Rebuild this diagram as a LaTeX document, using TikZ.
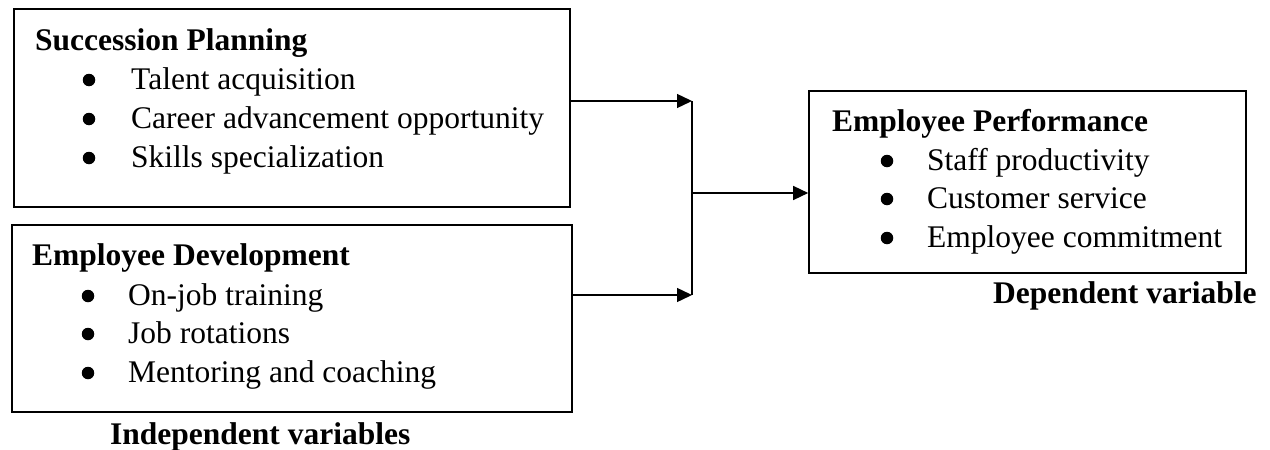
\documentclass[tikz,border=0pt]{standalone}
\usepackage{fontspec}
\setmainfont{Liberation Serif}
\usetikzlibrary{arrows.meta}
\tikzset{
  box/.style={draw=black, line width=1.6pt, rectangle, inner sep=0pt},
  txt/.style={anchor=base west, inner sep=0pt, font=\fontsize{31.5}{38}\selectfont},
  hd/.style={txt, font=\fontsize{31.5}{38}\selectfont\bfseries},
  bul/.style={circle, fill=black, inner sep=0pt, minimum size=12.5pt},
  conn/.style={line width=1.4pt, draw=black},
  arr/.style={conn, -{Triangle[length=15pt,width=14pt]}}
}
\begin{document}
\begin{tikzpicture}[x=1pt,y=-1pt]
\useasboundingbox (0,0) rectangle (1270,450);
% boxes
\node[box, minimum width=556pt, minimum height=198pt] (sp) at (292,108) {};
\node[box, minimum width=560pt, minimum height=187pt] (ed) at (292,318.5) {};
\node[box, minimum width=437pt, minimum height=182pt] (ep) at (1027.5,182) {};
% Succession planning
\node[hd] (sph) at (35,50) {Succession Planning};
\node[bul] (spb1) at (89,80) {};
\node[txt] (sp1) at (131,89) {Talent acquisition};
\node[bul] (spb2) at (89,119) {};
\node[txt] (sp2) at (131,128) {Career advancement opportunity};
\node[bul] (spb3) at (89,158) {};
\node[txt] (sp3) at (131,167) {Skills specialization};
% Employee development
\node[hd] (edh) at (32,265) {Employee Development};
\node[bul] (edb1) at (88,296) {};
\node[txt] (ed1) at (128,305) {On-job training};
\node[bul] (edb2) at (88,334) {};
\node[txt] (ed2) at (128,343) {Job rotations};
\node[bul] (edb3) at (88,373) {};
\node[txt] (ed3) at (128,382) {Mentoring and coaching};
\node[hd] (iv) at (110,444) {Independent variables};
% Employee performance
\node[hd] (eph) at (832,131) {Employee Performance};
\node[bul] (epb1) at (887,161) {};
\node[txt] (ep1) at (927,170) {Staff productivity};
\node[bul] (epb2) at (887,199) {};
\node[txt] (ep2) at (927,208) {Customer service};
\node[bul] (epb3) at (887,238) {};
\node[txt] (ep3) at (927,247) {Employee commitment};
\node[hd] (dv) at (993,303) {Dependent variable};
% connectors
\coordinate (j1) at (692,101);
\coordinate (j2) at (692,295);
\coordinate (jm) at (692,193);
\draw[arr] (sp.east |- j1) -- (j1);
\draw[arr] (ed.east |- j2) -- (j2);
\draw[conn] (j1) -- (j2);
\draw[arr] (jm) -- (jm -| ep.west);
\end{tikzpicture}
\end{document}
